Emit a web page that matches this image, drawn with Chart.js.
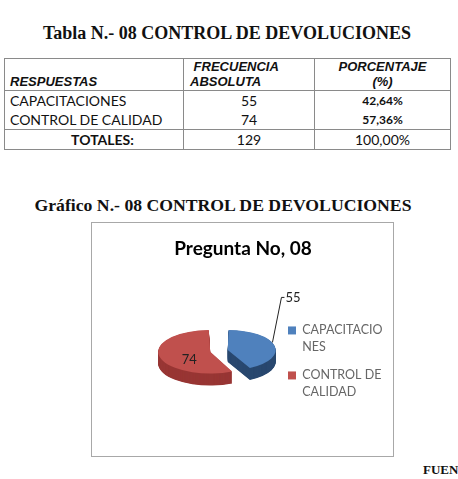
<!DOCTYPE html>
<html>
<head>
<meta charset="utf-8">
<script src="https://cdn.jsdelivr.net/npm/chart.js@4.4.1/dist/chart.umd.min.js"></script>
<style>
  html, body { margin: 0; padding: 0; background: #fff; }
  body { width: 458px; height: 479px; overflow: hidden; position: relative; font-family: Lato, "Liberation Sans", sans-serif; color: #111; }
  .titulo { position: absolute; left: 0; width: 454px; text-align: center; font-family: "Liberation Serif", "Times New Roman", serif; font-weight: bold; font-size: 18px; line-height: 20px; }
  #tabla { position: absolute; left: 4px; top: 58px; border-collapse: collapse; table-layout: fixed; }
  #tabla td { border-left: 1px solid #8a8a8a; border-right: 1px solid #8a8a8a; padding: 0; height: 19px; line-height: 19px; font-size: 14px; text-align: center; white-space: nowrap; }
  #tabla tr:first-child td { border-top: 1px solid #8a8a8a; border-bottom: 1px solid #8a8a8a; height: 30px; font: italic bold 13px "Liberation Sans", Arial, sans-serif; line-height: 15px; vertical-align: bottom; }
  #tabla tr.tot td { border-top: 1px solid #8a8a8a; border-bottom: 1px solid #8a8a8a; }
  #tabla td.izq { text-align: left; padding-left: 5px; }
  #tabla .pct { font-weight: bold; font-size: 12px; }
  #caja { position: absolute; left: 91px; top: 222px; width: 301px; height: 233px; border: 1px solid #a8a8a8; }
  #fuente { position: absolute; left: 423px; top: 462px; font-family: "Liberation Serif", serif; font-weight: bold; font-size: 13px; }
</style>
</head>
<body>
<div class="titulo" style="top:23px">Tabla N.- 08 CONTROL DE DEVOLUCIONES</div>
<table id="tabla">
  <colgroup><col style="width:179px"><col style="width:131px"><col style="width:136px"></colgroup>
  <tbody id="cuerpo"></tbody>
</table>
<div class="titulo" style="top:195px;width:446px;font-size:17.7px">Gráfico N.- 08 CONTROL DE DEVOLUCIONES</div>
<div id="caja"><canvas id="grafico" width="301" height="233"></canvas></div>
<div id="fuente">FUENTE:</div>

<script>
const categorias = ["CAPACITACIONES", "CONTROL DE CALIDAD"];
const leyenda = [["CAPACITACIO", "NES"], ["CONTROL DE", "CALIDAD"]];
const frecuencias = [55, 74];
const porcentajes = ["42,64%", "57,36%"];
const totalFrecuencia = 129;
const totalPorcentaje = "100,00%";

const colores = ["#4f81bd", "#c0504d"];
const lados = ["#29486f", "#983634"];

// tabla
const cuerpo = document.getElementById("cuerpo");
cuerpo.innerHTML = `
  <tr>
    <td class="izq" style="padding-bottom:1px">RESPUESTAS</td>
    <td style="text-align:left;padding-left:6px;padding-bottom:1px">&nbsp;FRECUENCIA<br>ABSOLUTA</td>
    <td style="padding-bottom:1px">PORCENTAJE<br>(%)</td>
  </tr>` +
  categorias.map((c, i) => `
  <tr>
    <td class="izq">${c}</td>
    <td>${frecuencias[i]}</td>
    <td class="pct">${porcentajes[i]}</td>
  </tr>`).join("") + `
  <tr class="tot">
    <td style="font-weight:bold;padding-left:17px">TOTALES:</td>
    <td>${totalFrecuencia}</td>
    <td>${totalPorcentaje}</td>
  </tr>`;

// pastel inclinado con grosor
const inclinacion = {
  id: "inclinacion",
  afterLayout(chart) {
    // la leyenda se sale de su caja, como en Excel
    chart.legend.right = chart.width;
  },
  beforeDatasetsDraw(chart, args, opts) {
    const ctx = chart.ctx;
    const arcs = chart.getDatasetMeta(0).data;
    const cx = arcs[0].x, cy = arcs[0].y;
    ctx.save();
    ctx.translate(cx, cy);
    ctx.scale(1, opts.k);
    ctx.translate(-cx, -cy);
    for (let d = opts.grosor; d > 0; d -= 0.5) {
      arcs.forEach((arc, i) => {
        const lado = Object.create(arc);
        lado.options = Object.assign({}, arc.options, { backgroundColor: opts.lados[i] });
        ctx.save();
        ctx.translate(0, d / opts.k);
        lado.draw(ctx);
        ctx.restore();
      });
    }
    arcs.forEach(arc => arc.draw(ctx));
    ctx.restore();
    return false;
  },
  afterDraw(chart, args, opts) {
    const ctx = chart.ctx;
    const arcs = chart.getDatasetMeta(0).data;
    const valores = chart.data.datasets[0].data;
    ctx.save();
    ctx.font = "13px Lato, 'Liberation Sans', sans-serif";
    ctx.fillStyle = "#222";
    ctx.textBaseline = "middle";
    arcs.forEach((arc, i) => {
      const mid = (arc.startAngle + arc.endAngle) / 2;
      const desp = (arc.options.offset || 0) / 4;
      const cos = Math.cos(mid), sin = Math.sin(mid);
      if (opts.fuera[i]) {
        const extra = desp * (1 - Math.sin(Math.min(Math.PI, arc.circumference)));
        const r = desp + arc.outerRadius + extra;
        const ax = arc.x + cos * r - 2;
        const ay = arc.y + sin * r * opts.k - 3;
        ctx.strokeStyle = "#222";
        ctx.lineWidth = 1;
        ctx.beginPath();
        ctx.moveTo(ax, ay);
        ctx.lineTo(ax + 9, ay - 45);
        ctx.lineTo(ax + 12, ay - 45);
        ctx.stroke();
        ctx.textAlign = "left";
        ctx.fillText(valores[i], ax + 13, ay - 45);
      } else {
        const r = desp + arc.outerRadius * 0.5;
        ctx.textAlign = "center";
        ctx.fillText(valores[i], arc.x + cos * r, arc.y + sin * r * opts.k + opts.grosor / 2);
      }
    });
    ctx.restore();
  }
};

new Chart(document.getElementById("grafico"), {
  type: "pie",
  data: {
    labels: categorias,
    datasets: [{
      data: frecuencias,
      backgroundColor: colores,
      borderWidth: 0,
      offset: 36,
      radius: 43
    }]
  },
  options: {
    responsive: false,
    animation: false,
    layout: { padding: { left: 69, right: 68, bottom: 24 } },
    plugins: {
      title: {
        display: true,
        text: "Pregunta No, 08",
        color: "#000",
        font: { family: "Lato, 'Liberation Sans', sans-serif", size: 19, weight: "bold" },
        padding: { top: 14, bottom: 10 }
      },
      legend: {
        position: "right",
        maxWidth: 48,
        title: { display: true, text: "", padding: { top: 0, bottom: 58 } },
        labels: {
          color: "#262626",
          boxWidth: 8,
          boxHeight: 8,
          padding: 11,
          font: { family: "Lato, 'Liberation Sans', sans-serif", size: 12.5, lineHeight: "17px" },
          generateLabels: chart => leyenda.map((t, i) => ({
            text: t,
            fillStyle: colores[i],
            strokeStyle: colores[i],
            lineWidth: 0,
            index: i
          }))
        }
      },
      tooltip: { enabled: false },
      inclinacion: { k: 0.42, grosor: 12, lados: lados, fuera: [true, false] }
    }
  },
  plugins: [inclinacion]
});
</script>
</body>
</html>
